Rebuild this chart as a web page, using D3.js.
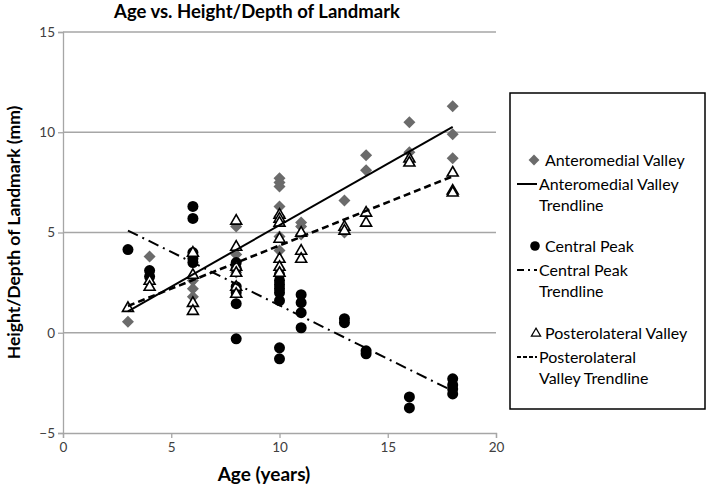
<!DOCTYPE html>
<html><head><meta charset="utf-8">
<script src="https://cdn.jsdelivr.net/npm/d3@7"></script>
<style>body{margin:0;background:#fff;} text{font-family:Lato,"Open Sans",sans-serif;}</style>
</head><body><svg id="c" width="708" height="487"></svg>
<script>
const xTicks = [0,5,10,15,20];
const yTicks = [-5,0,5,10,15];

const amAge = [3,4,6,6,6,8,8,8,8,10,10,10,10,10,10,10,11,11,11,13,13,14,14,16,16,18,18,18];
const amHeight = [0.55,3.8,2.6,2.2,1.8,5.3,3.9,3.0,2.1,7.7,7.5,7.3,6.3,5.8,4.8,4.1,5.5,5.3,4.9,6.6,5.0,8.85,8.1,10.5,9.0,11.3,9.9,8.7];

const cpAge = [3,4,4,6,6,6,6,6,8,8,8,8,8,8,10,10,10,10,10,10,10,10,11,11,11,11,13,13,14,14,16,16,18,18,18,18];
const cpHeight = [4.15,3.1,2.8,6.3,5.7,4.0,3.7,3.5,3.5,3.2,2.3,2.0,1.45,-0.3,2.9,2.6,2.4,2.2,2.0,1.6,-0.75,-1.3,1.9,1.5,1.0,0.25,0.7,0.5,-0.9,-1.05,-3.2,-3.75,-2.3,-2.6,-2.8,-3.05];

const plAge = [3,4,4,6,6,6,6,8,8,8,8,8,8,10,10,10,10,10,10,10,11,11,11,13,13,14,14,16,16,18,18,18];
const plHeight = [1.25,2.6,2.3,4.0,2.9,1.5,1.1,5.6,4.3,3.3,3.0,2.3,1.95,5.9,5.7,5.5,4.7,3.7,3.3,3.0,5.0,4.1,3.7,5.3,5.1,6.0,5.5,8.7,8.5,8.0,7.1,7.0];

const legendLabels = [["Anteromedial Valley"],["Anteromedial Valley","Trendline"],["Central Peak"],["Central Peak","Trendline"],["Posterolateral Valley"],["Posterolateral","Valley Trendline"]];

const svg = d3.select("#c");
const L = 63, R = 496, T = 32, B = 433;
const x = d3.scaleLinear().domain([0,20]).range([L,R]);
const y = d3.scaleLinear().domain([-5,15]).range([B,T]);
const grid = "#a6a6a6";

// gridlines
svg.append("g").selectAll("line").data(yTicks.filter(d=>d>-5)).join("line")
  .attr("x1",L).attr("x2",R).attr("y1",d=>y(d)).attr("y2",d=>y(d))
  .attr("stroke",grid).attr("stroke-width",1.3);

// axes
const yAxis = svg.append("g").attr("transform",`translate(${L},0)`)
  .call(d3.axisLeft(y).tickValues(yTicks).tickSize(5).tickPadding(4).tickFormat(d3.format("d")));
const xAxis = svg.append("g").attr("transform",`translate(0,${B})`)
  .call(d3.axisBottom(x).tickValues(xTicks).tickSize(5).tickPadding(4).tickFormat(d3.format("d")));
[xAxis,yAxis].forEach(a=>{
  a.select(".domain").attr("stroke",grid).attr("stroke-width",1.3);
  a.selectAll(".tick line").attr("stroke",grid).attr("stroke-width",1.3);
  a.selectAll(".tick text").attr("fill","#404040").style("font-size","13.5px").style("font-family","Lato, sans-serif");
});
yAxis.selectAll(".tick text").attr("x",-8);

// trendlines (least squares)
function fit(xs, ys){
  const mx=d3.mean(xs), my=d3.mean(ys);
  let sxy=0,sxx=0; xs.forEach((v,i)=>{sxy+=(v-mx)*(ys[i]-my); sxx+=(v-mx)*(v-mx);});
  const b=sxy/sxx, a=my-b*mx; const x0=d3.min(xs), x1=d3.max(xs);
  return [[x0,a+b*x0],[x1,a+b*x1]];
}
const line = d3.line().x(d=>x(d[0])).y(d=>y(d[1]));

// markers
const diamond = d3.symbol().type(d3.symbolDiamond2).size(92);
const tri = d3.symbol().type(d3.symbolTriangle).size(52);
svg.append("g").selectAll("path").data(amAge.map((a,i)=>[a,amHeight[i]])).join("path")
  .attr("d",diamond).attr("transform",d=>`translate(${x(d[0])},${y(d[1])})`).attr("fill","#6b6b6b");
svg.append("g").selectAll("circle").data(cpAge.map((a,i)=>[a,cpHeight[i]])).join("circle")
  .attr("cx",d=>x(d[0])).attr("cy",d=>y(d[1])).attr("r",5.5).attr("fill","#000");
svg.append("g").selectAll("path").data(plAge.map((a,i)=>[a,plHeight[i]])).join("path")
  .attr("d",tri).attr("transform",d=>`translate(${x(d[0])},${y(d[1])+0.5})`).attr("fill","#fff").attr("stroke","#000").attr("stroke-width",1.6);

svg.append("path").attr("d",line(fit(amAge,amHeight))).attr("stroke","#000").attr("stroke-width",2).attr("fill","none");
svg.append("path").attr("d",line(fit(cpAge,cpHeight))).attr("stroke","#000").attr("stroke-width",2).attr("fill","none").attr("stroke-dasharray","11,5,2,5");
svg.append("path").attr("d",line(fit(plAge,plHeight))).attr("stroke","#000").attr("stroke-width",2.6).attr("fill","none").attr("stroke-dasharray","7,4");

// titles
svg.append("text").attr("x",257).attr("y",18).attr("text-anchor","middle").style("font-weight","bold").style("font-size","18.5px").attr("fill","#000").text("Age vs. Height/Depth of Landmark");
svg.append("text").attr("x",264).attr("y",481).attr("text-anchor","middle").style("font-weight","bold").style("font-size","19px").attr("fill","#000").text("Age (years)");
svg.append("text").attr("transform",`translate(20,${(T+B)/2}) rotate(-90)`).attr("text-anchor","middle").style("font-weight","bold").style("font-size","17.5px").attr("fill","#000").text("Height/Depth of Landmark (mm)");

// legend
const lg = svg.append("g");
lg.append("rect").attr("x",510).attr("y",93).attr("width",195).attr("height",316).attr("fill","#fff").attr("stroke","#000").attr("stroke-width",1.5);
const entryY = [160,184,246,270,333,357];
legendLabels.forEach((lines,i)=>{
  const yy = entryY[i];
  lines.forEach((t,j)=>{
    lg.append("text").attr("x", (i%2===0)?545:539).attr("y",yy+5.5+j*21).style("font-size","16px").attr("fill","#000").text(t);
  });
});
lg.append("path").attr("d",diamond).attr("transform",`translate(534,${entryY[0]}) scale(0.9)`).attr("fill","#6b6b6b");
lg.append("circle").attr("cx",535).attr("cy",entryY[2]).attr("r",4.8).attr("fill","#000");
lg.append("path").attr("d",tri).attr("transform",`translate(536,${entryY[4]+0.5}) scale(0.85)`).attr("fill","#fff").attr("stroke","#000").attr("stroke-width",1.4);
lg.append("line").attr("x1",517).attr("x2",537).attr("y1",entryY[1]).attr("y2",entryY[1]).attr("stroke","#000").attr("stroke-width",2);
lg.append("line").attr("x1",517).attr("x2",537).attr("y1",entryY[3]).attr("y2",entryY[3]).attr("stroke","#000").attr("stroke-width",2).attr("stroke-dasharray","7,4,2,4");
lg.append("line").attr("x1",517).attr("x2",537).attr("y1",entryY[5]).attr("y2",entryY[5]).attr("stroke","#000").attr("stroke-width",2).attr("stroke-dasharray","4,2");
</script></body></html>
